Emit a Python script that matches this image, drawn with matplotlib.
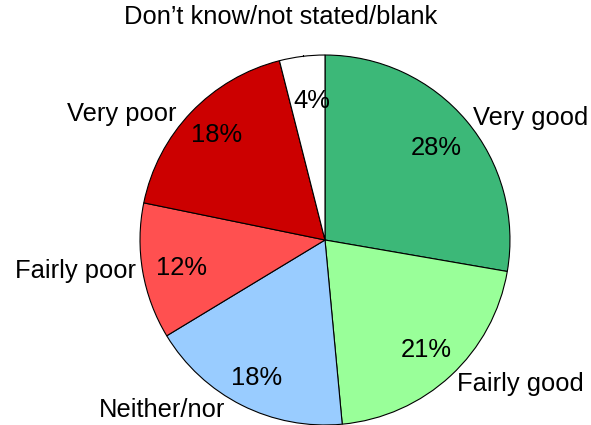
import matplotlib
matplotlib.use("Agg")
import matplotlib.pyplot as plt

plt.rcParams["font.family"] = ["Liberation Sans", "DejaVu Sans"]

categories = ["Very good", "Fairly good", "Neither/nor", "Fairly poor",
              "Very poor", "Don\u2019t know/not stated/blank"]
shares = [28, 21, 18, 12, 18, 4]
colors = ["#3CB878", "#99FF99", "#99CCFF", "#FF5050", "#CC0000", "#FFFFFF"]

# label placement (data units, pie radius = 1)
label_xy = [(1.11, 0.66), (1.055, -0.78), (-0.88, -0.92), (-1.35, -0.17),
            (-1.10, 0.68), (-0.24, 1.205)]
pct_xy = [(0.60, 0.50), (0.546, -0.595), (-0.368, -0.746), (-0.778, -0.151),
          (-0.584, 0.568), (-0.07, 0.751)]

fig = plt.figure(figsize=(5.91, 4.25), dpi=100)
ax = fig.add_axes([0.2369, 0.0, 0.626, 0.8706])

wedges, _, pcts = ax.pie(
    shares, colors=colors, startangle=90, counterclock=False,
    autopct=lambda p: f"{p:.0f}%", pctdistance=0.78,
    wedgeprops=dict(edgecolor="black", linewidth=0.8),
    textprops=dict(fontsize=18.4, color="black"),
)
# percentages were rounded in the source, so show those values
for t, v, xy in zip(pcts, shares, pct_xy):
    t.set_text(f"{v}%")
    t.set_position(xy)

for name, (x, y) in zip(categories, label_xy):
    ax.text(x, y, name, fontsize=18.4, ha="center", va="center")

# leader line for the small slice
ax.plot([-0.119, -0.119], [0.993, 1.13], color="black", lw=0.8)

ax.set_xlim(-1, 1)
ax.set_ylim(-1, 1)
ax.set_aspect("equal")
ax.axis("off")

fig.savefig("out.png", dpi=100)
